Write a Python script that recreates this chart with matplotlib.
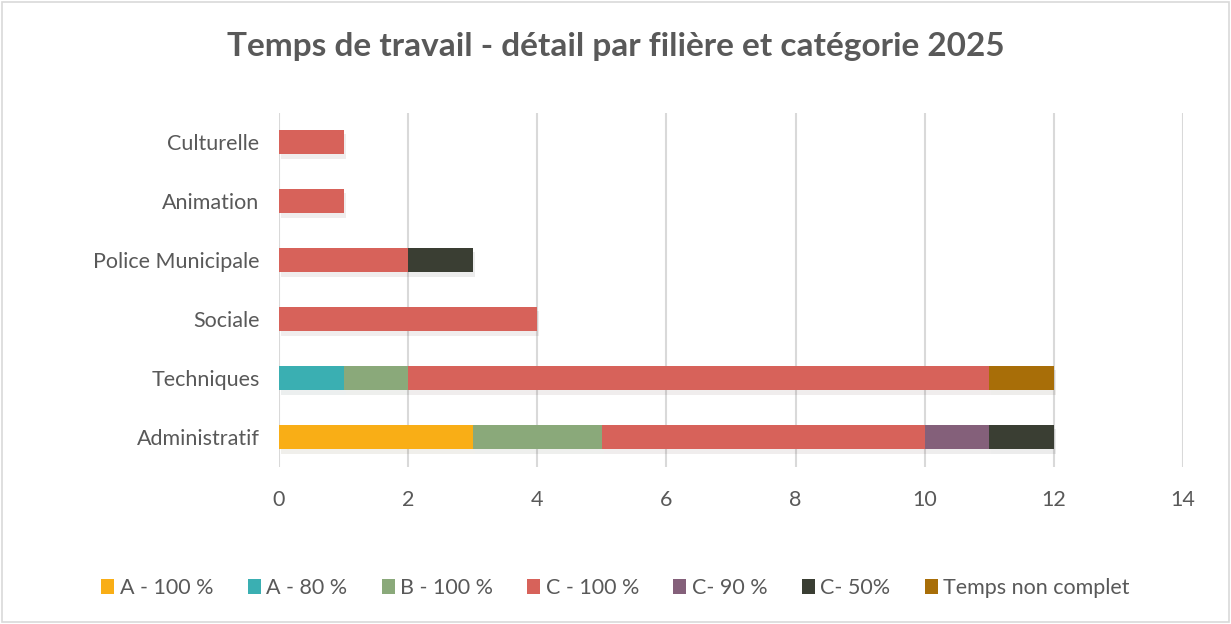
import matplotlib.pyplot as plt
import matplotlib.patheffects as pe
import numpy as np
from matplotlib.patches import Rectangle, Patch

filieres = ['Administratif', 'Techniques', 'Sociale', 'Police Municipale', 'Animation', 'Culturelle']
series = ['A - 100 %', 'A - 80 %', 'B - 100 %', 'C - 100 %', 'C- 90 %', 'C- 50%', 'Temps non complet']
a_100 = [3, 0, 0, 0, 0, 0]
a_80 = [0, 1, 0, 0, 0, 0]
b_100 = [2, 1, 0, 0, 0, 0]
c_100 = [5, 9, 4, 2, 1, 1]
c_90 = [1, 0, 0, 0, 0, 0]
c_50 = [1, 0, 0, 1, 0, 0]
non_complet = [0, 1, 0, 0, 0, 0]
colors = ['#F9AE16', '#3AAFB2', '#8AA97A', '#D7625A', '#84607A', '#3A3E33', '#A86E08']

plt.rcParams['font.family'] = ['Lato', 'DejaVu Sans']
txt = '#595959'

fig = plt.figure(figsize=(12.31, 6.24), dpi=100)
ax = fig.add_axes([0.2266, 0.2524, 0.7344, 0.5673])

y = np.arange(len(filieres))
left = np.zeros(len(filieres))
shadow = [pe.SimplePatchShadow(offset=(1.5, -3), alpha=0.08), pe.Normal()]
for name, vals, col in zip(series, [a_100, a_80, b_100, c_100, c_90, c_50, non_complet], colors):
    vals = np.array(vals, dtype=float)
    bars = ax.barh(y, vals, left=left, height=0.42, color=col, zorder=3)
    for b in bars:
        if b.get_width() > 0:
            b.set_path_effects(shadow)
    left += vals

ax.set_xlim(0, 14)
ax.set_ylim(-0.5, 5.5)
ax.set_xticks(range(0, 15, 2))
ax.set_yticks(y)
ax.set_yticklabels(filieres)
ax.tick_params(length=0, labelsize=15.5, colors=txt)
ax.tick_params(axis='x', pad=17)
ax.tick_params(axis='y', pad=14)
ax.grid(axis='x', color='#D9D9D9', linewidth=1.5, zorder=0)
for s in ax.spines.values():
    s.set_visible(False)

fig.text(0.5, 0.925, 'Temps de travail - détail par filière et catégorie 2025',
         ha='center', va='center', fontsize=24, fontweight='bold', color=txt)

handles = [Patch(facecolor=c, label=n) for n, c in zip(series, colors)]
fig.legend(handles=handles, loc='center', bbox_to_anchor=(0.5, 0.057), ncol=7, frameon=False,
           fontsize=15.5, labelcolor=txt, handlelength=0.6, handleheight=0.7,
           handletextpad=0.25, columnspacing=1.6)

fig.patches.append(Rectangle((0.002, 0.003), 0.996, 0.994, transform=fig.transFigure,
                             fill=False, edgecolor='#D9D9D9', linewidth=1.2))

fig.savefig('out.png', dpi=100)
